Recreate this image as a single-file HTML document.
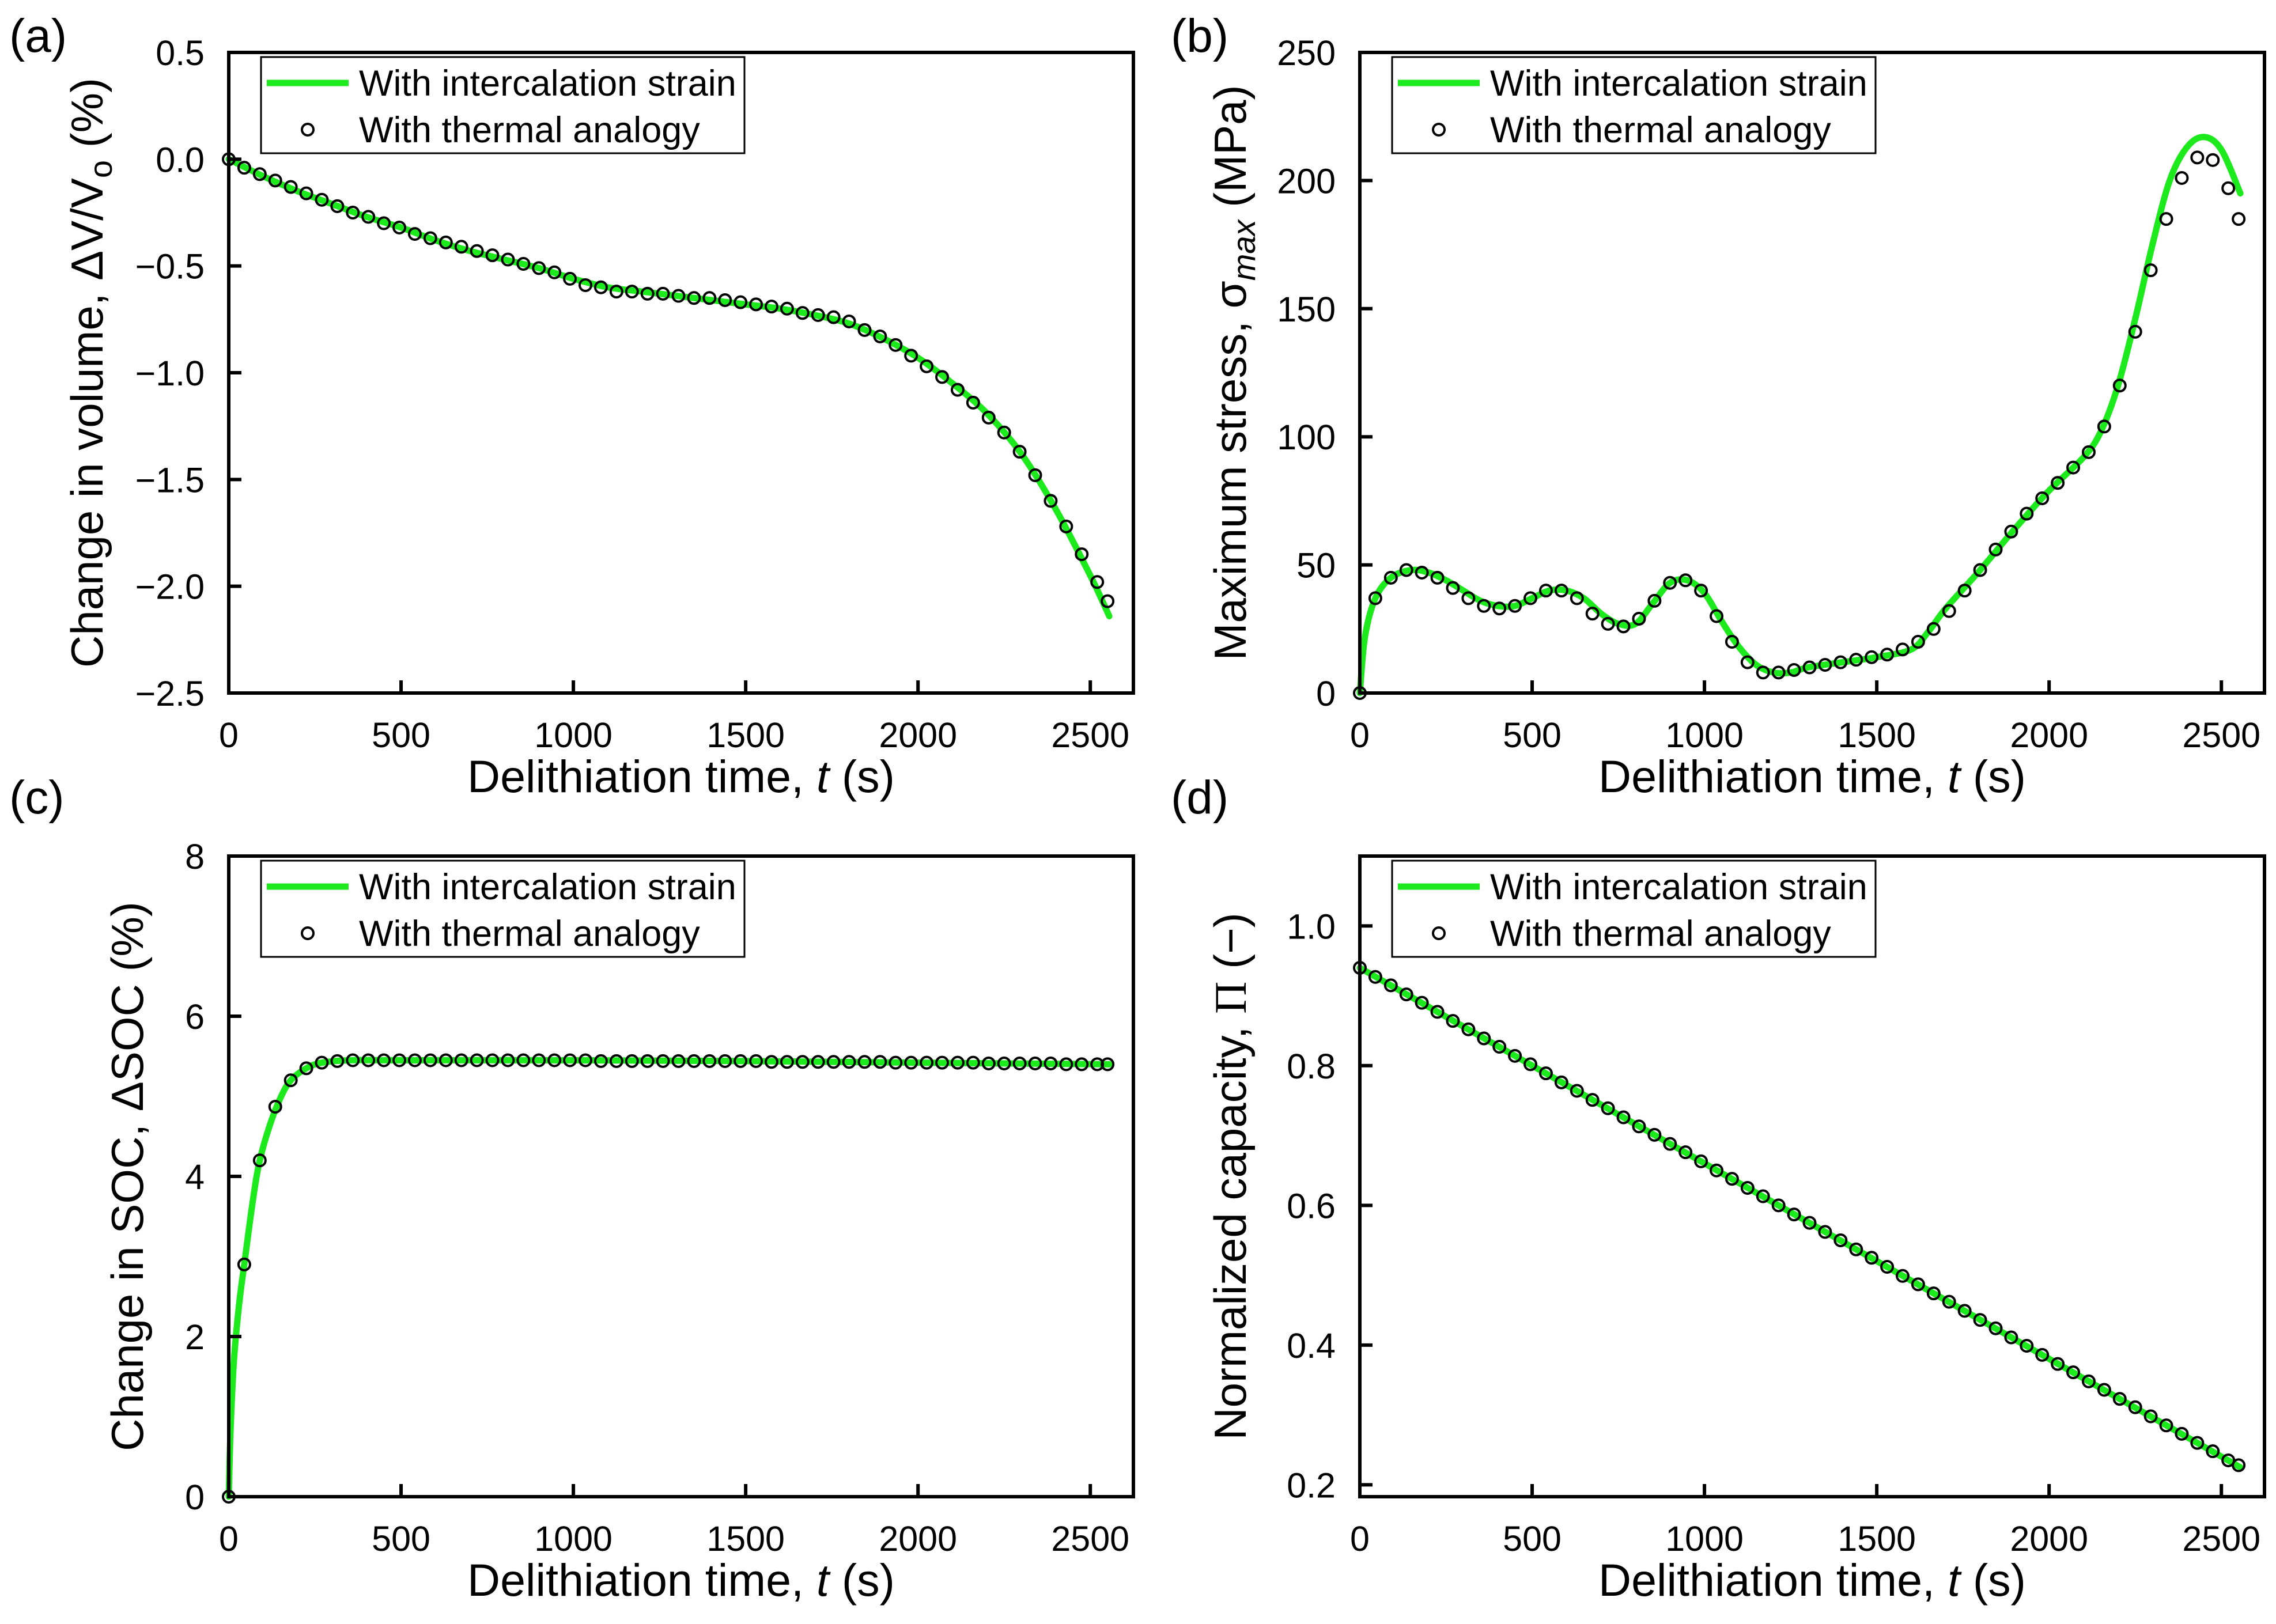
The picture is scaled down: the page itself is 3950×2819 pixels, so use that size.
<!DOCTYPE html>
<html><head><meta charset="utf-8"><style>
html,body{margin:0;padding:0;background:#fff;}
svg{display:block;font-family:"Liberation Sans",sans-serif;}
</style></head><body>
<svg id="fig" width="3950" height="2819" viewBox="0 0 3950 2819" xmlns="http://www.w3.org/2000/svg"></svg>
<script>
const markerT=[0,45,90,135,180,225,270,315,360,405,450,495,540,585,630,675,720,765,810,855,900,945,990,1035,1080,1125,1170,1215,1260,1305,1350,1395,1440,1485,1530,1575,1620,1665,1710,1755,1800,1845,1890,1935,1980,2025,2070,2115,2160,2205,2250,2295,2340,2385,2430,2475,2520,2550];
const aMarkers=[0,-0.04,-0.07,-0.10,-0.13,-0.16,-0.19,-0.22,-0.25,-0.27,-0.30,-0.32,-0.35,-0.37,-0.39,-0.41,-0.43,-0.45,-0.47,-0.49,-0.51,-0.53,-0.56,-0.59,-0.60,-0.62,-0.62,-0.63,-0.63,-0.64,-0.65,-0.65,-0.66,-0.67,-0.68,-0.69,-0.70,-0.72,-0.73,-0.74,-0.76,-0.80,-0.83,-0.87,-0.92,-0.97,-1.02,-1.08,-1.14,-1.21,-1.28,-1.37,-1.48,-1.60,-1.72,-1.85,-1.98,-2.07];
const aLineT=[0,100,200,300,400,500,600,700,800,900,1000,1100,1200,1300,1400,1500,1600,1700,1800,1900,2000,2100,2200,2300,2400,2500,2555];
const aLine=[0,-0.08,-0.15,-0.21,-0.27,-0.32,-0.38,-0.43,-0.47,-0.51,-0.56,-0.60,-0.62,-0.64,-0.66,-0.68,-0.70,-0.73,-0.77,-0.84,-0.93,-1.05,-1.19,-1.38,-1.64,-1.95,-2.14];
const bMarkers=[0,37,45,48,47,45,41,37,34,33,34,37,40,40,37,31,27,26,29,36,43,44,40,30,20,12,8,8,9,10,11,12,13,14,15,17,20,25,32,40,48,56,63,70,76,82,88,94,104,120,141,165,185,201,209,208,197,185];
const bLineT=[0,15,45,90,150,200,250,300,350,400,450,500,550,600,650,700,750,800,850,900,950,1000,1050,1100,1150,1200,1250,1300,1400,1500,1600,1650,1700,1800,1900,2000,2100,2150,2200,2250,2300,2350,2400,2450,2500,2555];
const bLine=[0,22,37,45,48,47,44,40,36,34,34,37,40,40,37,31,27,27,35,43,44,39,28,18,11,8,8,10,12,14,17,24,33,48,64,79,92,102,120,146,175,200,213,217,212,195];
const cMarkers=[0,2.9,4.2,4.87,5.2,5.35,5.42,5.44,5.45,5.45,5.45,5.45,5.45,5.45,5.45,5.45,5.45,5.45,5.45,5.45,5.45,5.45,5.45,5.45,5.44,5.44,5.44,5.44,5.44,5.44,5.44,5.44,5.44,5.44,5.44,5.43,5.43,5.43,5.43,5.43,5.43,5.43,5.43,5.42,5.42,5.42,5.42,5.42,5.42,5.41,5.41,5.41,5.41,5.41,5.40,5.40,5.40,5.40];
const cLineT=[0,5,15,30,45,70,90,120,150,180,225,270,350,500,1000,1500,2000,2555];
const cLine=[0,0.8,1.7,2.4,2.9,3.7,4.2,4.65,4.98,5.2,5.35,5.42,5.45,5.45,5.45,5.44,5.42,5.40];
const dMarkers=[0.940,0.927,0.915,0.902,0.890,0.877,0.864,0.852,0.839,0.827,0.814,0.802,0.789,0.776,0.764,0.751,0.739,0.726,0.713,0.701,0.688,0.676,0.663,0.650,0.638,0.625,0.613,0.600,0.587,0.575,0.562,0.550,0.537,0.525,0.512,0.499,0.487,0.474,0.462,0.449,0.436,0.424,0.411,0.399,0.386,0.373,0.361,0.348,0.336,0.323,0.311,0.298,0.285,0.273,0.260,0.248,0.235,0.228];
const dLineT=[0,2555];
const dLine=[0.940,0.225];
const xTicks=[0,500,1000,1500,2000,2500];
const aTicks=[0.5,0,-0.5,-1.0,-1.5,-2.0,-2.5];
const aTickLabels=["0.5","0.0","\u22120.5","\u22121.0","\u22121.5","\u22122.0","\u22122.5"];
const bTicks=[0,50,100,150,200,250];
const bTickLabels=["0","50","100","150","200","250"];
const cTicks=[0,2,4,6,8];
const cTickLabels=["0","2","4","6","8"];
const dTicks=[0.2,0.4,0.6,0.8,1.0];
const dTickLabels=["0.2","0.4","0.6","0.8","1.0"];

const NS="http://www.w3.org/2000/svg";
const svg=document.getElementById('fig');
const GREEN="#1cea1c";
function mk(tag,attrs,parent){const e=document.createElementNS(NS,tag);for(const k in attrs)e.setAttribute(k,attrs[k]);(parent||svg).appendChild(e);return e;}
function smooth(pts){let d=`M${pts[0][0]},${pts[0][1]}`;for(let i=0;i<pts.length-1;i++){const p0=pts[Math.max(0,i-1)],p1=pts[i],p2=pts[i+1],p3=pts[Math.min(pts.length-1,i+2)];const c1=[p1[0]+(p2[0]-p0[0])/6,p1[1]+(p2[1]-p0[1])/6];const c2=[p2[0]-(p3[0]-p1[0])/6,p2[1]-(p3[1]-p1[1])/6];d+=` C${c1[0]},${c1[1]} ${c2[0]},${c2[1]} ${p2[0]},${p2[1]}`;}return d;}

function panel(cfg){
  const g=mk('g',{});
  
  
  const L=cfg.L,T=cfg.T,R=L+1570,B=T+1112;
  const xs=t=>L+(t-0)/(2625)*(R-L);
  const ys=v=>B-(v-cfg.ymin)/(cfg.ymax-cfg.ymin)*(B-T);
  const pts=cfg.lineT.map((t,i)=>[xs(t),ys(cfg.line[i])]);
  const ln=mk('path',{d:smooth(pts),fill:'none',stroke:GREEN,'stroke-width':11,'stroke-linecap':'round'},g);
  
  
  markerT.forEach((t,i)=>{
    const c=mk('circle',{cx:xs(t),cy:ys(cfg.markers[i]),r:10,fill:'none',stroke:'#000','stroke-width':4},g);
    
    
  });
  const fr=mk('rect',{x:L,y:T,width:R-L,height:B-T,fill:'none',stroke:'#000','stroke-width':6},g);
  
  
  xTicks.forEach(t=>{
    const x=xs(t);
    mk('line',{x1:x,y1:B,x2:x,y2:B-22,stroke:'#000','stroke-width':6},g);
    const tx=mk('text',{x:x,y:B+94,'font-size':61,'text-anchor':'middle'},g);
    tx.textContent=String(t);
    
    
  });
  cfg.ticks.forEach((v,i)=>{
    const y=ys(v);
    mk('line',{x1:L,y1:y,x2:L+22,y2:y,stroke:'#000','stroke-width':6},g);
    const tx=mk('text',{x:L-42,y:y+22,'font-size':61,'text-anchor':'end'},g);
    tx.textContent=cfg.tickLabels[i];
    
    
  });
  const xt=mk('text',{x:(L+R)/2,y:B+172,'font-size':79,'text-anchor':'middle'},g);
  xt.innerHTML='Delithiation time, <tspan font-style="italic">t</tspan> (s)';
  
  
  const yt=mk('text',{x:0,y:0,'font-size':78,'text-anchor':'middle',transform:`translate(${cfg.ytx},${(T+B)/2}) rotate(-90)`},g);
  yt.innerHTML=cfg.ytitle;
  
  
  const pl=mk('text',{x:cfg.plx,y:cfg.ply,'font-size':82},g);
  pl.textContent=cfg.label;
  
  
  const lg=mk('g',{},g);
  
  
  const lx=L+56,ly=T+8;
  mk('rect',{x:lx,y:ly,width:839,height:167,fill:'#fff',stroke:'#000','stroke-width':3},lg);
  mk('line',{x1:lx+10,y1:ly+45,x2:lx+152,y2:ly+45,stroke:GREEN,'stroke-width':11},lg);
  mk('circle',{cx:lx+81,cy:ly+126,r:10,fill:'none',stroke:'#000','stroke-width':4},lg);
  const t1=mk('text',{x:lx+170,y:ly+67,'font-size':63},lg);t1.textContent='With intercalation strain';
  
  
  const t2=mk('text',{x:lx+170,y:ly+148,'font-size':63},lg);t2.textContent='With thermal analogy';
  
  
}
panel({name:'panel-a-volume',label:'(a)',plx:16,ply:90,L:397,T:91,ymin:-2.5,ymax:0.5,ticks:aTicks,tickLabels:aTickLabels,
  ytx:178,ytitle:'Change in volume, \u0394V/V<tspan font-size="56" dy="16">o</tspan><tspan dy="-16"> (%)</tspan>',
  lineT:aLineT,line:aLine,markers:aMarkers});
panel({name:'panel-b-stress',label:'(b)',plx:2032,ply:90,L:2360,T:91,ymin:0,ymax:250,ticks:bTicks,tickLabels:bTickLabels,
  ytx:2162,ytitle:'Maximum stress, \u03C3<tspan font-size="56" font-style="italic" dy="16">max</tspan><tspan dy="-16"> (MPa)</tspan>',
  lineT:bLineT,line:bLine,markers:bMarkers});
panel({name:'panel-c-soc',label:'(c)',plx:16,ply:1412,L:397,T:1486,ymin:0,ymax:8,ticks:cTicks,tickLabels:cTickLabels,
  ytx:248,ytitle:'Change in SOC, \u0394SOC (%)',
  lineT:cLineT,line:cLine,markers:cMarkers});
panel({name:'panel-d-capacity',label:'(d)',plx:2032,ply:1412,L:2360,T:1486,ymin:0.183,ymax:1.1,ticks:dTicks,tickLabels:dTickLabels,
  ytx:2162,ytitle:'Normalized capacity, <tspan font-family="Liberation Serif">\u03A0</tspan> (\u2212)',
  lineT:dLineT,line:dLine,markers:dMarkers});
</script>
</body></html>
